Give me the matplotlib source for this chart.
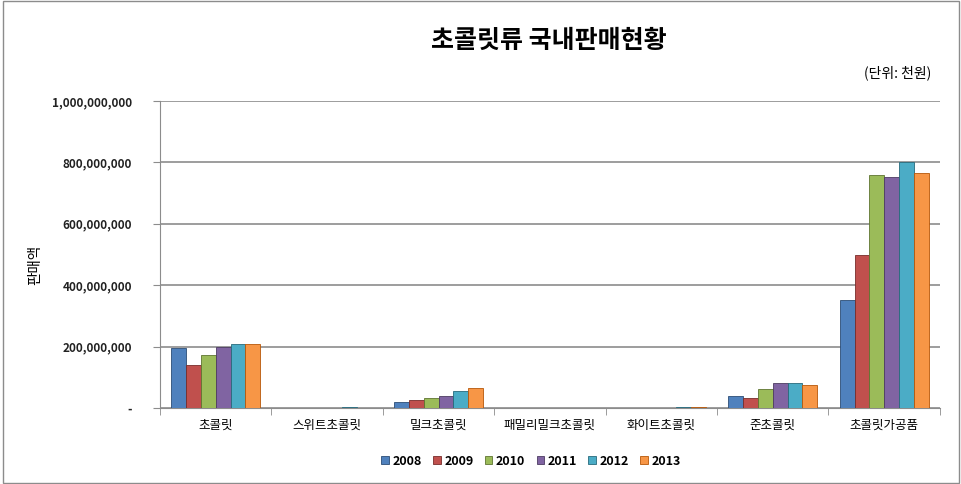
import numpy as np
import matplotlib
matplotlib.use("Agg")
import matplotlib.pyplot as plt
from matplotlib.ticker import FuncFormatter
from matplotlib.patches import Rectangle

plt.rcParams['font.family'] = ['Noto Sans CJK KR', 'DejaVu Sans']

categories = ["초콜릿", "스위트초콜릿", "밀크초콜릿", "패밀리밀크초콜릿", "화이트초콜릿", "준초콜릿", "초콜릿가공품"]
years = ["2008", "2009", "2010", "2011", "2012", "2013"]
v2008 = [196e6, 0.3e6, 20e6, 0.2e6, 0.5e6, 39e6, 353e6]
v2009 = [140e6, 0.3e6, 26e6, 0.2e6, 0.5e6, 34e6, 497e6]
v2010 = [172e6, 0.4e6, 33e6, 0.2e6, 0.8e6, 61e6, 758e6]
v2011 = [199e6, 0.6e6, 39e6, 0.2e6, 1.2e6, 81e6, 751e6]
v2012 = [208e6, 2.5e6, 56e6, 0.3e6, 3e6, 83e6, 801e6]
v2013 = [208e6, 1.5e6, 65e6, 0.3e6, 2e6, 75e6, 766e6]
series = [v2008, v2009, v2010, v2011, v2012, v2013]
colors = ["#4F81BD", "#C0504D", "#9BBB59", "#8064A2", "#4BACC6", "#F79646"]
edges = ["#2c4d75", "#772c2a", "#5f7530", "#4d3b62", "#276a7c", "#b65708"]

fig = plt.figure(figsize=(9.62, 4.84), dpi=100)
ax = fig.add_axes([0.1663, 0.157, 0.8107, 0.6343])

x = np.arange(len(categories))
w = 0.133
for i, (vals, c, ec) in enumerate(zip(series, colors, edges)):
    ax.bar(x + (i - 2.5) * w, vals, width=w, color=c, edgecolor=ec, linewidth=0.6,
           label=years[i], zorder=3)

ax.set_xlim(-0.5, len(categories) - 0.5)
ax.set_ylim(0, 1e9)
ax.set_yticks(np.arange(0, 1.01e9, 2e8))
ax.yaxis.set_major_formatter(FuncFormatter(lambda v, p: "-" if v == 0 else f"{int(v):,}"))
ax.yaxis.grid(True, color="#8c8c8c", linewidth=1.2)
ax.set_axisbelow(True)
for lab in ax.get_yticklabels():
    lab.set_fontweight("bold")
    lab.set_fontsize(8.5)
    lab.set_color("#222222")
ax.tick_params(axis="y", length=5, color="#8c8c8c", pad=15)

ax.set_xticks(x)
ax.set_xticklabels(categories, fontsize=9)
ax.set_xticks(np.arange(-0.5, len(categories), 1), minor=True)
ax.tick_params(axis="x", which="major", length=0, pad=8)
ax.tick_params(axis="x", which="minor", length=5, color="#8c8c8c")

for s in ["top", "right"]:
    ax.spines[s].set_visible(False)
ax.spines["left"].set_color("#8c8c8c")
ax.spines["bottom"].set_color("#8c8c8c")

fig.text(0.037, 0.452, "판매액", rotation=90, ha="center", va="center", fontsize=10.5)

fig.text(0.571, 0.915, "초콜릿류 국내판매현황", ha="center", va="center",
         fontsize=18, fontweight="bold")
fig.text(0.968, 0.85, "(단위: 천원)", ha="right", va="center", fontsize=10)

fig.legend(loc="center", bbox_to_anchor=(0.552, 0.047), ncol=6, frameon=False,
           handlelength=0.6, handleheight=0.6, columnspacing=0.9,
           handletextpad=0.3, prop={"weight": "bold", "size": 9})

fig.patches.append(Rectangle((0.003, 0.003), 0.994, 0.994, transform=fig.transFigure,
                             fill=False, edgecolor="#8c8c8c", linewidth=1))

fig.savefig("out.png", dpi=100)
